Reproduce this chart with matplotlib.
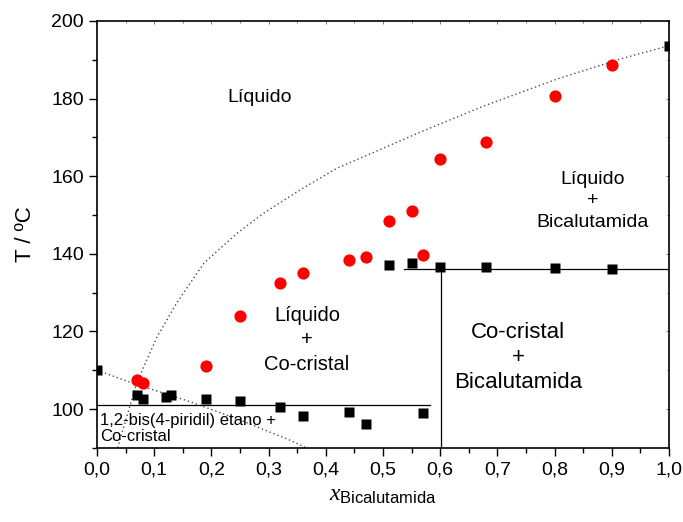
import matplotlib
matplotlib.use("Agg")
import matplotlib.pyplot as plt
from matplotlib.ticker import MultipleLocator, FuncFormatter

plt.rcParams['font.family'] = ['Liberation Sans', 'DejaVu Sans']
plt.rcParams['mathtext.fontset'] = 'custom'
plt.rcParams['mathtext.it'] = 'Liberation Serif:italic'
plt.rcParams['mathtext.rm'] = 'Liberation Sans'

# Liquidus temperatures (red circles)
x_liquidus = [0.07, 0.08, 0.19, 0.25, 0.32, 0.36, 0.44, 0.47, 0.51, 0.55, 0.57,
              0.60, 0.68, 0.80, 0.90]
T_liquidus = [107.6, 106.7, 111.1, 124.0, 132.5, 135.1, 138.5, 139.2, 148.5, 151.0,
              139.7, 164.4, 168.8, 180.7, 188.7]

# Solidus / eutectic and pure-component melting temperatures (black squares)
x_solidus = [0.00, 0.07, 0.08, 0.12, 0.13, 0.19, 0.25, 0.32, 0.36, 0.44, 0.47, 0.57,
             0.51, 0.55, 0.60, 0.68, 0.80, 0.90, 1.00]
T_solidus = [110.0, 103.6, 102.6, 103.1, 103.6, 102.6, 102.1, 100.5, 98.2, 99.3, 96.1,
             99.0, 137.1, 137.6, 136.6, 136.6, 136.3, 136.1, 193.6]

# Guide curves (dotted): bicalutamide-side liquidus and bipyridylethane-side liquidus
x_curve_bica = [0.036, 0.07, 0.105, 0.14, 0.187, 0.245, 0.291, 0.35, 0.419,
                0.571, 0.675, 0.804, 0.92, 1.0]
T_curve_bica = [90.0, 107.0, 118.6, 127.5, 137.6, 145.3, 150.4, 156.0, 162.0,
                171.7, 178.0, 185.0, 190.4, 193.6]
x_curve_bpe = [0.0, 0.0635, 0.163, 0.25, 0.337, 0.366]
T_curve_bpe = [110.0, 106.6, 101.9, 97.2, 92.0, 90.0]

# Phase-boundary lines
T_eutectic_1 = 101.0
x_eutectic_1 = [0.0, 0.582]
T_eutectic_2 = 136.1
x_eutectic_2 = [0.537, 1.0]
x_cocrystal = 0.601

fig = plt.figure(figsize=(6.83, 5.22), dpi=100)
ax = fig.add_axes([0.142, 0.142, 0.8375, 0.818])

dot = dict(color='0.3', lw=1.0, ls=(0, (1, 2)))
ax.plot(x_curve_bica, T_curve_bica, **dot, zorder=1)
ax.plot(x_curve_bpe, T_curve_bpe, **dot, zorder=1)

ax.plot(x_eutectic_1, [T_eutectic_1, T_eutectic_1], color='black', lw=0.9, zorder=2)
ax.plot(x_eutectic_2, [T_eutectic_2, T_eutectic_2], color='black', lw=0.9, zorder=2)
ax.plot([x_cocrystal, x_cocrystal], [90, T_eutectic_2], color='black', lw=0.9, zorder=2)

ax.plot(x_solidus, T_solidus, 's', color='black', ms=7, mec='none', zorder=3)
ax.plot(x_liquidus, T_liquidus, 'o', color='#ff0000', ms=8.8, mec='none', zorder=4)

ax.set_xlim(0, 1.0)
ax.set_ylim(90, 200)

comma = FuncFormatter(lambda v, p: f"{v:.1f}".replace('.', ','))
ax.xaxis.set_major_locator(MultipleLocator(0.1))
ax.xaxis.set_minor_locator(MultipleLocator(0.05))
ax.xaxis.set_major_formatter(comma)
ax.yaxis.set_major_locator(MultipleLocator(20))
ax.yaxis.set_minor_locator(MultipleLocator(10))

for s in ax.spines.values():
    s.set_linewidth(1.2)

ax.tick_params(which='both', direction='out', labelsize=14, width=1.0)
ax.tick_params(which='major', length=6)
ax.tick_params(which='minor', length=3.5)
ax.tick_params(axis='x', pad=4)

# inward ticks on top and right spines
axt = ax.secondary_xaxis('top')
axt.xaxis.set_major_locator(MultipleLocator(0.1))
axt.xaxis.set_minor_locator(MultipleLocator(0.05))
axt.tick_params(which='both', direction='in', labeltop=False, width=0.6, color='0.4')
axt.tick_params(which='major', length=2)
axt.tick_params(which='minor', length=1.5)
axt.spines['top'].set_visible(False)
axr = ax.secondary_yaxis('right')
axr.yaxis.set_major_locator(MultipleLocator(20))
axr.yaxis.set_minor_locator(MultipleLocator(10))
axr.tick_params(which='both', direction='in', labelright=False, width=0.6, color='0.4')
axr.tick_params(which='major', length=2)
axr.tick_params(which='minor', length=1.5)
axr.spines['right'].set_visible(False)

ax.set_ylabel('T / ºC', fontsize=16, labelpad=11)
ax.set_xlabel(r'$\mathit{x}_{\mathrm{Bicalutamida}}$', fontsize=17, labelpad=4)

ax.text(0.285, 180.2, 'Líquido', fontsize=14, ha='center', va='center')
ax.text(0.367, 117.8, 'Líquido\n+\nCo-cristal', fontsize=14.5, ha='center', va='center',
        linespacing=1.35)
ax.text(0.867, 153.6, 'Líquido\n+\nBicalutamida', fontsize=14, ha='center', va='center',
        linespacing=1.35)
ax.text(0.736, 113.3, 'Co-cristal\n+\nBicalutamida', fontsize=16, ha='center', va='center',
        linespacing=1.25)
ax.text(0.006, 95.0, '1,2-bis(4-piridil) etano +\nCo-cristal', fontsize=12, ha='left',
        va='center', linespacing=1.15)

fig.savefig('out.png', dpi=100)
